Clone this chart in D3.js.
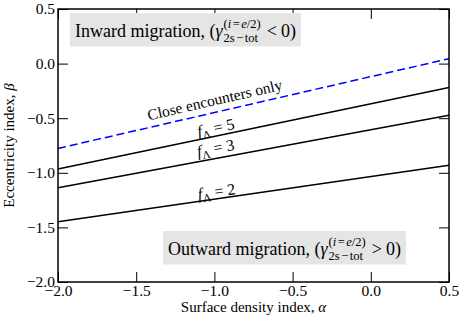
<!DOCTYPE html>
<html>
<head>
<meta charset="utf-8">
<script src="https://cdn.jsdelivr.net/npm/d3@7"></script>
<style>
  html, body { margin: 0; padding: 0; background: #fff; }
  svg { display: block; }
  svg text { font-family: "Liberation Serif", "DejaVu Serif", serif; }
</style>
</head>
<body>
<div id="chart"></div>
<script>
// alpha at the two ends of every line
const alphaEnds = [-2.0, 0.5]
// beta values at those ends
const closeEncounters = [-0.777, 0.045]
const fLambda5 = [-0.966, -0.218]
const fLambda3 = [-1.137, -0.472]
const fLambda2 = [-1.449, -0.930]
const xTicks = [-2.0, -1.5, -1.0, -0.5, 0.0, 0.5]
const yTicks = [0.5, 0.0, -0.5, -1.0, -1.5, -2.0]

const SERIF = 'Liberation Serif'

const config = {
  margin: { top: 9, right: 14, bottom: 42, left: 58 },
  width: 463,
  height: 324,
  colors: { text: '#000', box: '#e5e5e5', dashed: '#0000ff' }
}

const width = config.width - config.margin.left - config.margin.right
const height = config.height - config.margin.top - config.margin.bottom

const svg = d3.select('#chart')
  .append('svg')
  .attr('width', config.width)
  .attr('height', config.height)
  .attr('font-family', SERIF)

const g = svg.append('g')
  .attr('transform', `translate(${config.margin.left},${config.margin.top})`)

const x = d3.scaleLinear().domain([-2, 0.5]).range([0, width])
const y = d3.scaleLinear().domain([-2, 0.5]).range([height, 0])
const fmt = d3.format('.1f')

const styleAxis = (sel) => {
  sel.attr('font-family', SERIF).attr('font-size', 15.5)
  sel.select('.domain').remove()
  sel.selectAll('.tick line').attr('stroke', '#000').attr('stroke-width', 1)
  sel.selectAll('.tick text').attr('fill', '#000')
}

g.append('g').attr('transform', `translate(0,${height})`)
  .call(d3.axisBottom(x).tickValues(xTicks).tickFormat(fmt).tickSize(-10).tickPadding(3))
  .call(styleAxis)
g.append('g')
  .call(d3.axisTop(x).tickValues(xTicks).tickFormat('').tickSize(-10))
  .call(styleAxis)
g.append('g')
  .call(d3.axisLeft(y).tickValues(yTicks).tickFormat(fmt).tickSize(-10).tickPadding(3))
  .call(styleAxis)
g.append('g').attr('transform', `translate(${width},0)`)
  .call(d3.axisRight(y).tickValues(yTicks).tickFormat('').tickSize(-10))
  .call(styleAxis)

// lines
const line = d3.line().x((d) => x(d[0])).y((d) => y(d[1]))
const series = [
  { values: closeEncounters, dashed: true },
  { values: fLambda5 },
  { values: fLambda3 },
  { values: fLambda2 }
]
series.forEach((s) => {
  g.append('path')
    .datum(alphaEnds.map((a, i) => [a, s.values[i]]))
    .attr('d', line)
    .attr('fill', 'none')
    .attr('stroke', s.dashed ? config.colors.dashed : '#000')
    .attr('stroke-width', 1.5)
    .attr('stroke-dasharray', s.dashed ? '8,4' : null)
})

// frame
g.append('rect')
  .attr('width', width)
  .attr('height', height)
  .attr('fill', 'none')
  .attr('stroke', '#000')
  .attr('stroke-width', 1.5)

// labels along the lines
const lineLabel = (values, alpha, offset, size) => {
  const slope = (values[1] - values[0]) / (alphaEnds[1] - alphaEnds[0])
  const beta = values[0] + slope * (alpha - alphaEnds[0])
  const angle = Math.atan2(y(values[1]) - y(values[0]), x(alphaEnds[1]) - x(alphaEnds[0])) * 180 / Math.PI
  return g.append('text')
    .attr('transform', `translate(${x(alpha)},${y(beta)}) rotate(${angle}) translate(0,${-offset})`)
    .attr('text-anchor', 'middle')
    .attr('font-size', size)
}

lineLabel(closeEncounters, -0.98, 7, 15.5).text('Close encounters only')

const fLabel = (values, n, offset) => {
  const t = lineLabel(values, -0.98, offset, 16)
  t.append('tspan').attr('font-style', 'italic').text('f')
  t.append('tspan').attr('dy', 3.5).attr('font-size', 11.5).text('Λ')
  t.append('tspan').attr('dy', -3.5).text(` = ${n}`)
}
fLabel(fLambda5, 5, 3)
fLabel(fLambda3, 3, 5)
fLabel(fLambda2, 2, 2)

// migration boxes
const migrationBox = (px, baseline, lead, rel) => {
  const box = g.append('g')
  const rect = box.append('rect').attr('fill', config.colors.box)
  const main = box.append('text')
    .attr('x', px).attr('y', baseline)
    .attr('font-size', 18)
  main.append('tspan').text(lead + ' (')
  main.append('tspan').attr('font-style', 'italic').text('γ')
  const xs = px + main.node().getComputedTextLength() + 1
  const sup = box.append('text').attr('x', xs).attr('y', baseline - 9).attr('font-size', 12.5)
  sup.append('tspan').text('(')
  sup.append('tspan').attr('font-style', 'italic').text('i')
  sup.append('tspan').attr('dx', 1.5).text('=')
  sup.append('tspan').attr('dx', 1.5).attr('font-style', 'italic').text('e')
  sup.append('tspan').text('/2)')
  const sub = box.append('text').attr('x', xs).attr('y', baseline + 5).attr('font-size', 12.5)
  sub.append('tspan').text('2s')
  sub.append('tspan').attr('dx', 1.5).text('−')
  sub.append('tspan').attr('dx', 1.5).text('tot')
  const supW = sup.node().getBBox().width
  const subW = sub.node().getBBox().width
  const xe = xs + Math.max(supW, subW) + 6
  const tail = box.append('text').attr('x', xe).attr('y', baseline).attr('font-size', 18)
  tail.append('tspan').text(rel)
  tail.append('tspan').attr('dx', 4).text('0)')
  const right = xe + tail.node().getBBox().width
  rect.attr('x', px - 5).attr('y', baseline - 24)
    .attr('width', right + 5 - (px - 5))
    .attr('height', 33.5)
}
migrationBox(75 - config.margin.left, 37 - config.margin.top, 'Inward migration,', '<')
migrationBox(168 - config.margin.left, 255 - config.margin.top, 'Outward migration,', '>')

// axis titles
const xTitle = svg.append('text')
  .attr('x', config.margin.left + width / 2)
  .attr('y', 312)
  .attr('text-anchor', 'middle')
  .attr('font-size', 15)
xTitle.append('tspan').text('Surface density index, ')
xTitle.append('tspan').attr('font-style', 'italic').text('α')

const yTitle = svg.append('text')
  .attr('transform', `translate(14,${config.margin.top + height / 2}) rotate(-90)`)
  .attr('text-anchor', 'middle')
  .attr('font-size', 15)
yTitle.append('tspan').text('Eccentricity index, ')
yTitle.append('tspan').attr('font-style', 'italic').text('β')
</script>
</body>
</html>
